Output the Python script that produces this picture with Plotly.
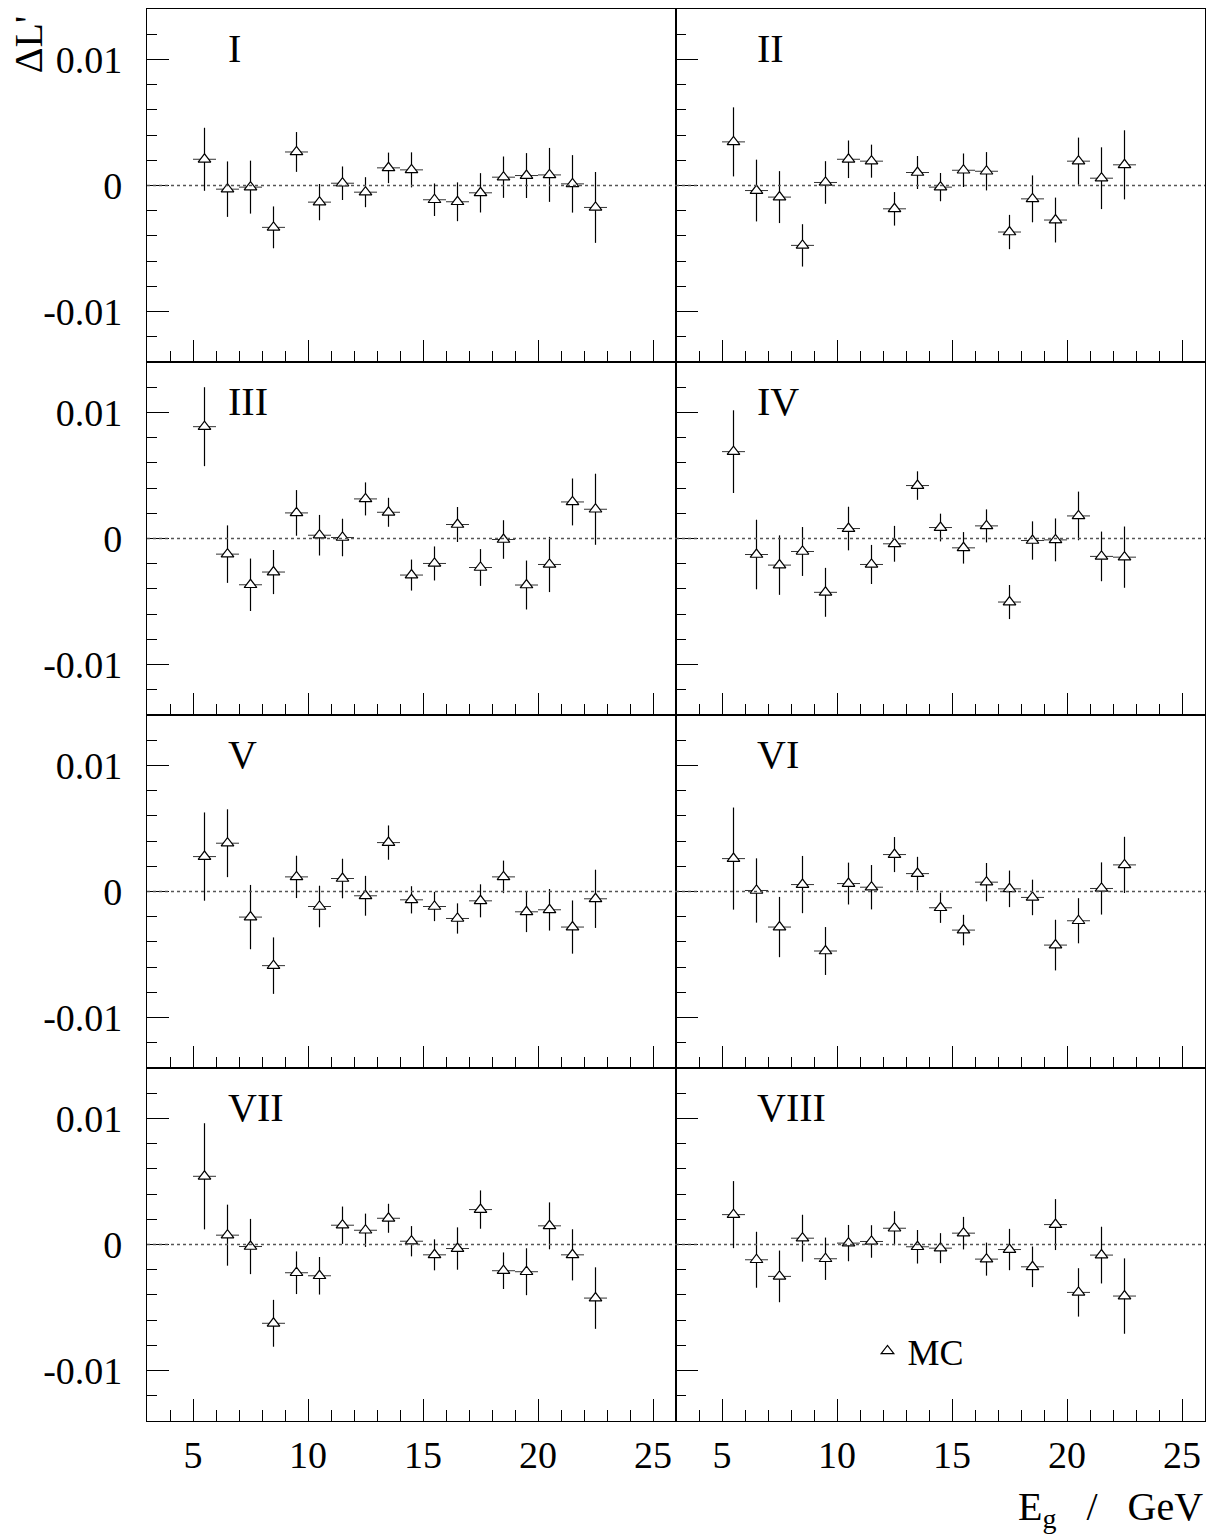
import numpy as np
import plotly.graph_objects as go
from plotly.subplots import make_subplots

# photon energy bins (GeV)
E_BINS = [5.5, 6.5, 7.5, 8.5, 9.5, 10.5, 11.5, 12.5, 13.5,
          14.5, 15.5, 16.5, 17.5, 18.5, 19.5, 20.5, 21.5, 22.5]

# dL' values and errors, in units of 1e-3
I_VAL = [2.08, -0.29, -0.13, -3.32, 2.66, -1.32, 0.18, -0.53, 1.40,
         1.24, -1.13, -1.29, -0.58, 0.66, 0.79, 0.84, 0.13, -1.74]
I_ERR = [2.50, 2.20, 2.10, 1.66, 1.58, 1.44, 1.33, 1.19, 1.21,
         1.39, 1.29, 1.54, 1.56, 1.64, 1.78, 2.14, 2.28, 2.81]

II_VAL = [3.46, -0.40, -0.92, -4.75, 0.24, 2.08, 1.93, -1.85, 1.03,
          -0.13, 1.21, 1.13, -3.69, -1.06, -2.74, 1.93, 0.58, 1.64]
II_ERR = [2.74, 2.45, 2.06, 1.68, 1.69, 1.49, 1.31, 1.33, 1.31,
          1.12, 1.33, 1.52, 1.36, 1.86, 1.78, 1.87, 2.45, 2.74]

III_VAL = [8.87, -1.24, -3.67, -2.66, 2.03, 0.26, 0.08, 3.14, 2.08,
           -2.90, -1.98, 1.11, -2.30, -0.08, -3.69, -2.06, 2.90, 2.32]
III_ERR = [3.13, 2.28, 2.08, 1.75, 1.81, 1.61, 1.49, 1.31, 1.15,
           1.23, 1.35, 1.39, 1.46, 1.53, 1.94, 2.19, 1.86, 2.82]

IV_VAL = [6.89, -1.27, -2.11, -1.03, -4.27, 0.79, -2.06, -0.42, 4.20,
          0.87, -0.74, 1.00, -5.04, -0.16, -0.11, 1.79, -1.42, -1.48]
IV_ERR = [3.28, 2.76, 2.36, 1.94, 1.94, 1.73, 1.55, 1.42, 1.13,
          1.10, 1.25, 1.31, 1.35, 1.52, 1.70, 1.93, 1.97, 2.43]

V_VAL = [2.77, 3.83, -2.03, -5.88, 1.16, -1.19, 1.03, -0.34, 3.88,
         -0.66, -1.19, -2.14, -0.74, 1.16, -1.61, -1.45, -2.82, -0.58]
V_ERR = [3.50, 2.69, 2.55, 2.24, 1.68, 1.65, 1.57, 1.58, 1.36,
         1.08, 1.16, 1.20, 1.31, 1.29, 1.61, 1.65, 2.11, 2.31]

VI_VAL = [2.61, 0.08, -2.82, 0.55, -4.72, 0.63, 0.34, 2.93, 1.42,
          -1.29, -3.06, 0.74, 0.21, -0.47, -4.25, -2.32, 0.24, 2.11]
VI_ERR = [4.05, 2.55, 2.39, 2.27, 1.90, 1.66, 1.76, 1.39, 1.33,
          1.20, 1.21, 1.52, 1.45, 1.41, 2.01, 1.79, 2.07, 2.23]

VII_VAL = [5.41, 0.74, -0.16, -6.25, -2.24, -2.48, 1.53, 1.13, 2.08,
           0.26, -0.82, -0.32, 2.77, -2.08, -2.16, 1.48, -0.82, -4.25]
VII_ERR = [4.21, 2.42, 2.19, 1.86, 1.69, 1.49, 1.48, 1.32, 1.15,
           1.20, 1.23, 1.68, 1.52, 1.45, 1.86, 1.86, 2.03, 2.44]

VIII_VAL = [2.37, -1.21, -2.53, 0.50, -1.13, 0.11, 0.24, 1.29, -0.18,
            -0.29, 0.90, -1.16, -0.40, -1.77, 1.58, -3.80, -0.84, -4.09]
VIII_ERR = [2.66, 2.22, 2.05, 1.86, 1.68, 1.44, 1.29, 1.35, 1.33,
            1.19, 1.29, 1.31, 1.64, 1.61, 2.02, 1.92, 2.25, 2.99]

PANEL_NAMES = ["I", "II", "III", "IV", "V", "VI", "VII", "VIII"]
PANEL_VALS = [I_VAL, II_VAL, III_VAL, IV_VAL, V_VAL, VI_VAL, VII_VAL, VIII_VAL]
PANEL_ERRS = [I_ERR, II_ERR, III_ERR, IV_ERR, V_ERR, VI_ERR, VII_ERR, VIII_ERR]

X_TICKS = [5, 10, 15, 20, 25]
Y_TICKS = [-0.01, 0, 0.01]
Y_TICK_TEXT = ["-0.01", "0", "0.01"]

FONT = "Liberation Serif"

fig = make_subplots(rows=4, cols=2, horizontal_spacing=0, vertical_spacing=0)

for i, name in enumerate(PANEL_NAMES):
    row = i // 2 + 1
    col = i % 2 + 1
    vals = np.array(PANEL_VALS[i]) * 1e-3
    errs = np.array(PANEL_ERRS[i]) * 1e-3
    fig.add_trace(go.Scatter(
        x=E_BINS, y=vals, mode="markers", name="MC",
        showlegend=(name == "VIII"),
        marker=dict(symbol="triangle-up", size=11, color="white",
                    line=dict(color="black", width=1.2)),
        error_y=dict(type="data", array=errs, thickness=1.2, width=0, color="black"),
        error_x=dict(type="constant", value=0.5, thickness=1, width=0, color="#333"),
    ), row=row, col=col)
    fig.add_hline(y=0, line=dict(color="#555", width=1.5, dash="dot"), row=row, col=col)

    n = i + 1
    xa = "x" if n == 1 else f"x{n}"
    ya = "y" if n == 1 else f"y{n}"
    fig.add_annotation(text=name, x=0.149, y=0.889, xref=f"{xa} domain", yref=f"{ya} domain",
                       xanchor="left", yanchor="middle", showarrow=False,
                       font=dict(family=FONT, size=40, color="black"))

    fig.update_xaxes(range=[3, 26], tickvals=X_TICKS, ticks="inside", ticklen=22,
                     tickwidth=1, tickcolor="black",
                     minor=dict(dtick=1, tick0=0, ticks="inside", ticklen=11,
                                tickwidth=1, tickcolor="black"),
                     showticklabels=(row == 4),
                     showline=True, mirror=True, linecolor="black", linewidth=1.2,
                     showgrid=False, zeroline=False,
                     tickfont=dict(family=FONT, size=38, color="black"),
                     row=row, col=col)
    fig.update_yaxes(range=[-0.014, 0.014], tickvals=Y_TICKS, ticktext=Y_TICK_TEXT,
                     ticks="inside", ticklen=22, tickwidth=1, tickcolor="black",
                     minor=dict(dtick=0.002, tick0=0, ticks="inside", ticklen=10,
                                tickwidth=1, tickcolor="black"),
                     showticklabels=(col == 1), ticklabelstandoff=16,
                     showline=True, mirror=True, linecolor="black", linewidth=1.2,
                     showgrid=False, zeroline=False,
                     tickfont=dict(family=FONT, size=38, color="black"),
                     row=row, col=col)

# axis titles
fig.add_annotation(text="ΔL'", x=-0.1125, y=0.975, xref="paper", yref="paper",
                   textangle=-90, xanchor="center", yanchor="middle", showarrow=False,
                   font=dict(family=FONT, size=40, color="black"))
fig.add_annotation(text="E<sub>g</sub>\u00a0\u00a0\u00a0/\u00a0\u00a0\u00a0GeV", x=1.0, y=-0.062,
                   xref="paper", yref="paper",
                   xanchor="right", yanchor="middle", showarrow=False,
                   font=dict(family=FONT, size=40, color="black"))

# the page body adds an 8px offset, so the figure is a bit smaller than the window
fig.update_layout(
    width=1208, height=1527,
    margin=dict(l=139, r=11, t=1, b=114),
    paper_bgcolor="white", plot_bgcolor="white",
    font=dict(family=FONT, color="black"),
    legend=dict(x=0.681, y=0.0496, xanchor="left", yanchor="middle",
                bgcolor="rgba(0,0,0,0)", font=dict(family=FONT, size=36, color="black")),
)

fig.write_html("out.html")
